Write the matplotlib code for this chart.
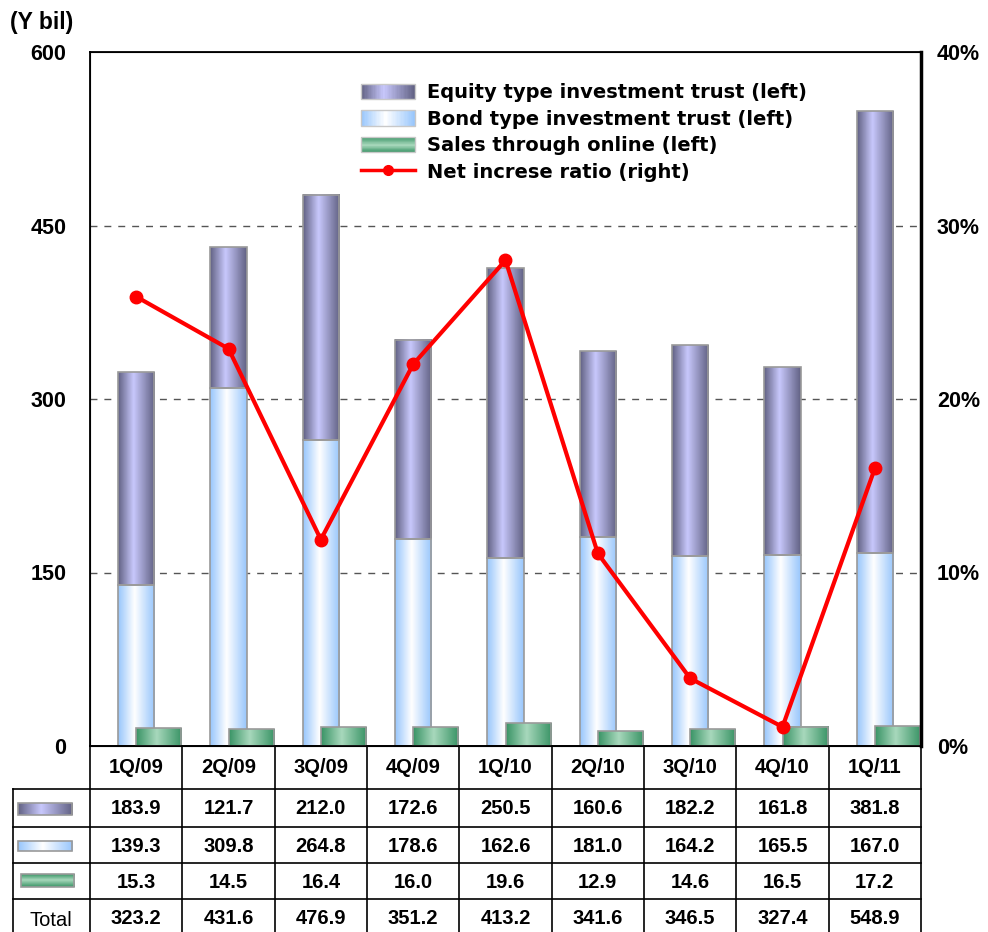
import matplotlib.pyplot as plt
import numpy as np
from matplotlib.colors import LinearSegmentedColormap
from matplotlib.patches import Rectangle, Patch
from matplotlib.lines import Line2D

plt.rcParams['font.family'] = ['Liberation Sans', 'DejaVu Sans']
plt.rcParams['font.weight'] = 'bold'

# data
quarters = ['1Q/09', '2Q/09', '3Q/09', '4Q/09', '1Q/10', '2Q/10', '3Q/10', '4Q/10', '1Q/11']
equity = [183.9, 121.7, 212.0, 172.6, 250.5, 160.6, 182.2, 161.8, 381.8]
bond = [139.3, 309.8, 264.8, 178.6, 162.6, 181.0, 164.2, 165.5, 167.0]
online = [15.3, 14.5, 16.4, 16.0, 19.6, 12.9, 14.6, 16.5, 17.2]
total = [323.2, 431.6, 476.9, 351.2, 413.2, 341.6, 346.5, 327.4, 548.9]
net_ratio = [25.9, 22.9, 11.9, 22.0, 28.0, 11.1, 3.9, 1.1, 16.0]

labels = ['Equity type investment trust (left)', 'Bond type investment trust (left)',
          'Sales through online (left)', 'Net increse ratio (right)']

cm_eq = LinearSegmentedColormap.from_list('eq', [(0, '#626284'), (0.42, '#c8c8fc'), (1, '#626284')])
cm_bd = LinearSegmentedColormap.from_list('bd', [(0, '#98c6fc'), (0.45, '#ffffff'), (1, '#98c6fc')])
cm_gr = LinearSegmentedColormap.from_list('gr', [(0, '#3a9466'), (0.45, '#a8d8bc'), (1, '#3a9466')])
grad = np.linspace(0, 1, 64).reshape(1, -1)

W, H = 988, 932
fig = plt.figure(figsize=(W / 100, H / 100), dpi=100)
ax = fig.add_axes([90 / W, (H - 746) / H, (921 - 90) / W, (746 - 52) / H])


def grad_bar(a, x0, x1, y0, y1, cmap, z, vertical=False):
    g = grad.T if vertical else grad
    a.imshow(g, extent=[x0, x1, y0, y1], aspect='auto', cmap=cmap, zorder=z,
             interpolation='bilinear')
    a.add_patch(Rectangle((x0, y0), x1 - x0, y1 - y0, fill=False, ec='#9a9a9a', lw=1.2, zorder=z + 0.1))


class GradHandler:
    def __init__(self, cmap, vertical=False):
        self.cmap = cmap
        self.vertical = vertical

    def legend_artist(self, legend, orig_handle, fontsize, handlebox):
        x0, y0 = -handlebox.xdescent, -handlebox.ydescent
        w, h = handlebox.width, handlebox.height
        n = 40
        tr = handlebox.get_transform()
        for j in range(n):
            c = self.cmap((j + 0.5) / n)
            if self.vertical:
                r = Rectangle((x0, y0 + j * h / n), w, h / n * 1.1, fc=c, ec='none', transform=tr)
            else:
                r = Rectangle((x0 + j * w / n, y0), w / n * 1.1, h, fc=c, ec='none', transform=tr)
            handlebox.add_artist(r)
        border = Rectangle((x0, y0), w, h, fill=False, ec='#c8c8c8', lw=1, transform=tr)
        handlebox.add_artist(border)
        return border


bw = 0.39
for i in range(len(quarters)):
    grad_bar(ax, i - bw / 2, i + bw / 2, 0, bond[i], cm_bd, 2)
    grad_bar(ax, i - bw / 2, i + bw / 2, bond[i], bond[i] + equity[i], cm_eq, 2)
    grad_bar(ax, i, i + 0.49, 0, online[i], cm_gr, 3)

ax.set_xlim(-0.5, len(quarters) - 0.5)
ax.set_ylim(0, 600)
ax.set_yticks([0, 150, 300, 450, 600])
ax.set_xticks([])
ax.tick_params(axis='y', length=0, pad=17, labelsize=15.5)
for y in [150, 300, 450]:
    ax.axhline(y, color='#555555', lw=1, dashes=(5, 5), zorder=1)
for s in ax.spines.values():
    s.set_linewidth(1.3)

ax2 = ax.twinx()
ax2.plot(range(len(quarters)), net_ratio, color='#ff0000', lw=3, marker='o', ms=9, zorder=5)
ax2.set_ylim(0, 40)
ax2.set_yticks([0, 10, 20, 30, 40])
ax2.set_yticklabels([f'{v}%' for v in [0, 10, 20, 30, 40]])
ax2.tick_params(axis='y', length=0, pad=11.5, labelsize=15.5)
ax2.spines['right'].set_linewidth(2.5)

h_eq, h_bd, h_gr = Patch(), Patch(), Patch()
h_ln = Line2D([0], [0], color='#ff0000', lw=2.5, marker='o', ms=7)
leg = ax2.legend([h_eq, h_bd, h_gr, h_ln], labels, loc='upper left', bbox_to_anchor=(0.317, 0.966),
                 frameon=False, prop={'family': 'DejaVu Sans', 'weight': 'bold', 'size': 14},
                 handlelength=2.75, handleheight=0.85, labelspacing=0.38,
                 handletextpad=0.65, borderaxespad=0,
                 handler_map={h_eq: GradHandler(cm_eq), h_bd: GradHandler(cm_bd),
                              h_gr: GradHandler(cm_gr, vertical=True)})

fig.text(10 / W, 1 - 22 / H, '(Y bil)', fontsize=16.5, fontweight='bold', va='center', ha='left')

# table below the chart
tab = fig.add_axes([0, 0, 1, 1])
tab.axis('off')
col_w = (921 - 90) / len(quarters)
rows_y = [746, 789, 827, 863, 899, 935]
for k in range(len(quarters) + 1):
    x = 90 + k * col_w
    tab.plot([x, x], [746, 935], color='black', lw=1.2)
tab.plot([13, 13], [789, 935], color='black', lw=1.2)
tab.plot([90, 921], [746, 746], color='black', lw=1.2)
for y in rows_y[1:]:
    tab.plot([13, 921], [y, y], color='black', lw=1.2)

table_rows = [equity, bond, online, total]
for k, q in enumerate(quarters):
    cx = 90 + (k + 0.5) * col_w
    tab.text(cx, (rows_y[0] + rows_y[1]) / 2, q, ha='center', va='center', fontsize=14.5, fontweight='bold')
    for r, vals in enumerate(table_rows):
        tab.text(cx, (rows_y[r + 1] + rows_y[r + 2]) / 2 + 1, f'{vals[k]:.1f}', ha='center', va='center',
                 fontsize=14.5, fontweight='bold')

grad_bar(tab, 18, 72, 815, 803, cm_eq, 2)
grad_bar(tab, 18, 72, 851, 841, cm_bd, 2)
grad_bar(tab, 21, 74, 887, 874, cm_gr, 2, vertical=True)
tab.text(51, 920, 'Total', ha='center', va='center', fontsize=14.5, fontweight='normal')
tab.set_xlim(0, W)
tab.set_ylim(H, 0)

fig.savefig('out.png', dpi=100)
